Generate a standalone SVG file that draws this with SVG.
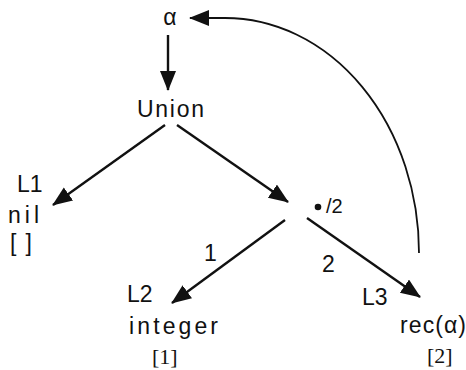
<svg xmlns="http://www.w3.org/2000/svg" width="466" height="370" viewBox="0 0 466 370">
<style>
.t{font-family:"Liberation Sans",Arial,sans-serif;font-size:23px;fill:#111}
.s{font-family:"Liberation Serif","Times New Roman",serif;font-size:22px;fill:#111}
.e{stroke:#111;stroke-width:2.4;fill:none}
</style>
<defs>
<marker id="ah" markerUnits="userSpaceOnUse" markerWidth="22" markerHeight="18" refX="19" refY="8" orient="auto">
<path d="M0,0 L20,8 L0,16 z" fill="#111"/>
</marker>
</defs>
<rect width="466" height="370" fill="#fff"/>
<g id="edges">
<line class="e" x1="168" y1="35" x2="168" y2="90" marker-end="url(#ah)"/>
<line class="e" x1="165" y1="125" x2="53" y2="205" marker-end="url(#ah)"/>
<line class="e" x1="177" y1="125" x2="288" y2="202" marker-end="url(#ah)"/>
<line class="e" x1="285" y1="220" x2="172" y2="303" marker-end="url(#ah)"/>
<line class="e" x1="307" y1="218" x2="420" y2="297" marker-end="url(#ah)"/>
<path class="e" style="stroke-width:1.8" d="M419,253 A194,235 0 0 0 225,18 L190,18" marker-end="url(#ah)"/>
<text class="t" x="204" y="261">1</text>
<text class="t" x="322" y="272">2</text>
</g>
<g id="alpha"><text class="t" x="170" y="25" text-anchor="middle">α</text></g>
<g id="union"><text class="t" x="137" y="117" textLength="67" lengthAdjust="spacing">Union</text></g>
<g id="L1">
<text class="t" x="17" y="192">L1</text>
<text class="t" x="8" y="223" textLength="31" lengthAdjust="spacing">nil</text>
<text class="t" x="10" y="251" textLength="22" lengthAdjust="spacing">[ ]</text>
</g>
<g id="tuple">
<circle cx="318" cy="207" r="3.3" fill="#111"/>
<text class="t" x="326" y="213" style="font-size:20px">/2</text>
</g>
<g id="L2">
<text class="t" x="127" y="302">L2</text>
<text class="t" x="129" y="334" textLength="89" lengthAdjust="spacing">integer</text>
<text class="s" x="152" y="364">[1]</text>
</g>
<g id="L3">
<text class="t" x="362" y="305">L3</text>
<text class="t" x="400" y="333" textLength="66" lengthAdjust="spacing">rec(α)</text>
<text class="s" x="427" y="363">[2]</text>
</g>
</svg>
